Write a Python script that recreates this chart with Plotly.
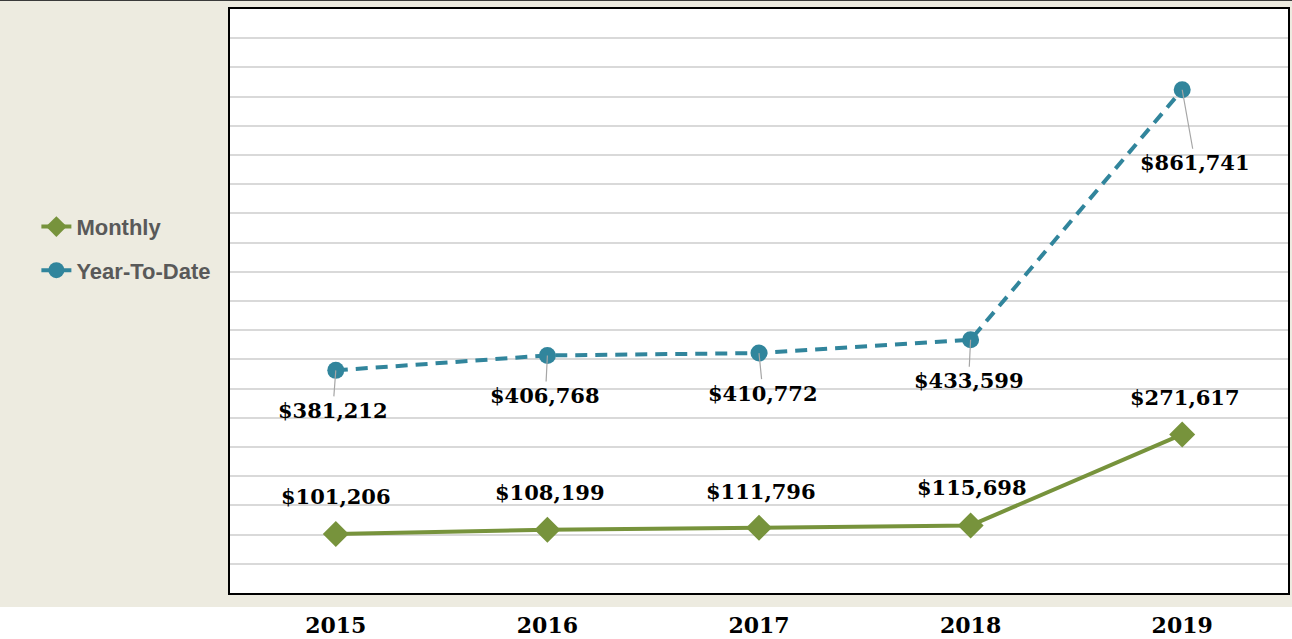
import plotly.graph_objects as go

years = ["2015", "2016", "2017", "2018", "2019"]
monthly = [101206, 108199, 111796, 115698, 271617]
ytd = [381212, 406768, 410772, 433599, 861741]

# label offsets (pixels) relative to each point
monthly_off = [(0, -37), (3, -37), (2, -36), (1, -38), (3, -37)]
ytd_off = [(-3, 40), (-2, 40), (4, 40), (-2, 41), (13, 73)]

GREEN = "#77933C"
TEAL = "#31859C"
BEIGE = "#EDEBE0"
LABEL_FONT = dict(family="DejaVu Serif", size=21, color="#000000")

fig = go.Figure()
fig.add_trace(go.Scatter(
    x=years, y=monthly, name="<b>Monthly</b>", mode="lines+markers",
    line=dict(color=GREEN, width=4),
    marker=dict(symbol="diamond", size=20, color=GREEN),
    legendgroup="m",
))
fig.add_trace(go.Scatter(
    x=years, y=ytd, name="<b>Year-To-Date</b>", mode="lines+markers",
    line=dict(color=TEAL, width=4, dash="12px,8px"),
    marker=dict(symbol="circle", size=17, color=TEAL),
    legendgroup="y",
))

annotations = []
for i, (v, (ax, ay)) in enumerate(zip(monthly, monthly_off)):
    annotations.append(dict(
        x=i, y=v, xref="x", yref="y", text="<b>$" + f"{v:,}" + "</b>",
        showarrow=True, arrowcolor="rgba(0,0,0,0)", arrowhead=0, ax=ax, ay=ay,
        font=LABEL_FONT,
    ))
for i, (v, (ax, ay)) in enumerate(zip(ytd, ytd_off)):
    annotations.append(dict(
        x=i, y=v, xref="x", yref="y", text="<b>$" + f"{v:,}" + "</b>",
        showarrow=True, arrowcolor="#A6A6A6", arrowhead=0, arrowwidth=1.2,
        standoff=0, ax=ax, ay=ay, font=LABEL_FONT,
    ))

shapes = [
    dict(type="rect", xref="paper", yref="paper", x0=-0.3, x1=1.1,
         y0=-0.2, y1=-0.024, fillcolor="white", line=dict(width=0), layer="below"),
    dict(type="line", xref="paper", yref="paper", x0=-0.3, x1=1.1,
         y0=1.0154, y1=1.0154, line=dict(color="#3a3a3a", width=2)),
]

fig.update_layout(
    width=1292, height=639,
    margin=dict(l=230, r=4, t=9, b=46, autoexpand=False),
    paper_bgcolor=BEIGE, plot_bgcolor="white",
    showlegend=True,
    legend=dict(
        x=-0.183, xanchor="left", y=0.663, yanchor="top",
        font=dict(family="Liberation Sans", size=22, color="#595959"),
        bgcolor="rgba(0,0,0,0)", tracegroupgap=12, itemwidth=30,
    ),
    annotations=annotations,
    shapes=shapes,
)
fig.update_xaxes(
    type="category", range=[-0.5, 4.5], showgrid=False, automargin=False,
    showline=True, mirror=True, linecolor="#000000", linewidth=2,
    ticks="", ticklabelstandoff=12,
    tickfont=dict(family="DejaVu Serif", size=22, color="#000000"),
    tickvals=years, ticktext=[f"<b>{y}</b>" for y in years],
)
fig.update_yaxes(
    range=[0, 1000000], dtick=50000, showticklabels=False, automargin=False,
    showgrid=True, gridcolor="#D9D9D9", gridwidth=1.5,
    showline=True, mirror=True, linecolor="#000000", linewidth=2,
    zeroline=False, ticks="",
)

fig.write_html(
    "out.html",
    config={"displayModeBar": False},
    post_script="document.body.style.margin='0';document.body.style.overflow='hidden';",
)
